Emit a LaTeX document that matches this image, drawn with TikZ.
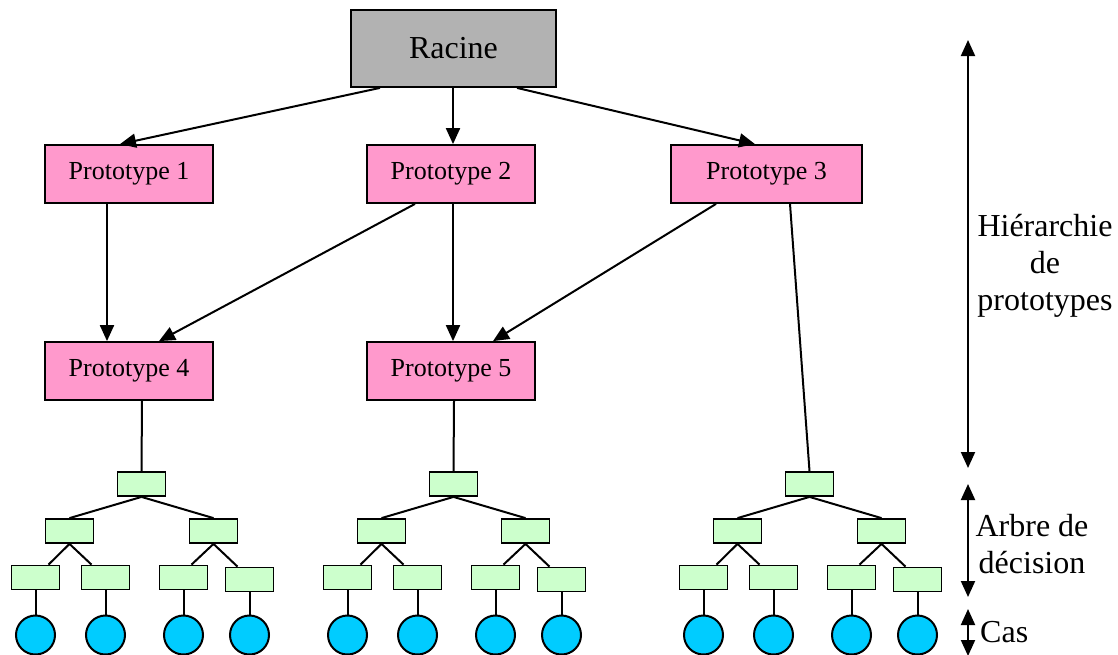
\documentclass[tikz,border=0pt]{standalone}
\usepackage{fontspec}
\setmainfont{Liberation Serif}
\usetikzlibrary{arrows.meta,calc}
\definecolor{rootgray}{HTML}{B2B2B2}
\definecolor{protopink}{HTML}{FF99CC}
\definecolor{treegreen}{HTML}{CCFFCC}
\definecolor{casblue}{HTML}{00CCFF}
\begin{document}
\begin{tikzpicture}[x=1pt,y=-1pt,
  box/.style={draw=black,line width=1.8pt,inner sep=0pt,anchor=center},
  rootbox/.style={box,fill=rootgray,minimum width=205pt,minimum height=77pt,font=\fontsize{32}{38}\selectfont},
  proto/.style={box,fill=protopink,minimum width=168pt,minimum height=58pt,font=\fontsize{26}{30}\selectfont},
  dbox/.style={box,fill=treegreen,minimum width=48pt,minimum height=24pt},
  casnode/.style={circle,draw=black,line width=2pt,fill=casblue,minimum size=39pt,inner sep=0pt},
  conn/.style={line width=2pt,-{Triangle[width=14pt,length=16pt]}},
  tline/.style={line width=2pt},
  span/.style={line width=2pt,{Triangle[width=14pt,length=16pt]}-{Triangle[width=14pt,length=16pt]}},
  sidetext/.style={font=\fontsize{32}{37}\selectfont,align=center,inner sep=0pt}]

% page frame
\fill[white] (0,0) rectangle (1118,654);
\path[use as bounding box] (0,0) rectangle (1118,654);

% prototype hierarchy
\node[rootbox] (racine) at (453.5,48.5) {Racine};
\node[proto] (p1) at (129,174) {Prototype 1};
\node[proto] (p2) at (451,174) {Prototype 2};
\node[proto,minimum width=191pt] (p3) at (766.5,174) {Prototype 3};
\node[proto] (p4) at (129,371) {Prototype 4};
\node[proto] (p5) at (451,371) {Prototype 5};

\draw[conn] ($(racine.south)+(-73.5,0)$) -- ($(p1.north)+(-9,0)$);
\draw[conn] ($(racine.south)+(-0.5,0)$) -- ($(p2.north)+(2,0)$);
\draw[conn] ($(racine.south)+(63.5,0)$) -- ($(p3.north)+(-11.5,0)$);
\draw[conn] ($(p1.south)+(-22,0)$) -- ($(p4.north)+(-22,0)$);
\draw[conn] ($(p2.south)+(-36,0)$) -- ($(p4.north)+(30,0)$);
\draw[conn] ($(p2.south)+(2,0)$) -- ($(p5.north)+(2,0)$);
\draw[conn] ($(p3.south)+(-50.5,0)$) -- ($(p5.north)+(42,0)$);

% decision trees with their cases
\foreach \t/\cx in {a/141.5, b/453.5, c/809.5} {
  \node[dbox] (\t0) at (\cx,484) {};
  \node[dbox] (\t1) at ({\cx-72},531) {};
  \node[dbox] (\t2) at ({\cx+72},531) {};
  \node[dbox] (\t11) at ({\cx-106},577.5) {};
  \node[dbox] (\t12) at ({\cx-36},577.5) {};
  \node[dbox] (\t21) at ({\cx+42},577.5) {};
  \node[dbox] (\t22) at ({\cx+108},579.5) {};
  \draw[tline] (\t0.south) -- (\t1.north);
  \draw[tline] (\t0.south) -- (\t2.north);
  \draw[tline] (\t1.south) -- ($(\t11.north)+(13,0)$);
  \draw[tline] (\t1.south) -- ($(\t12.north)+(-14,0)$);
  \draw[tline] (\t2.south) -- ($(\t21.north)+(8,0)$);
  \draw[tline] (\t2.south) -- ($(\t22.north)+(-12,0)$);
  \foreach \k in {11,12,21,22} {
    \node[casnode] (\t c\k) at (\t\k |- 0,635) {};
    \draw[tline] (\t\k.south) -- (\t c\k.north);
  }
}

% links from prototypes down to their trees
\draw[tline] ($(p4.south)+(13,0)$) -- (a0.north);
\draw[tline] ($(p5.south)+(3,0)$) -- (b0.north);
\draw[tline] ($(p3.south)+(23.5,0)$) -- (c0.north);

% level spans on the right
\coordinate (h1) at (968,40);
\coordinate (h2) at (968,468);
\coordinate (d1) at (968,484);
\coordinate (d2) at (968,597);
\coordinate (k1) at (968,609);
\coordinate (k2) at (968,656);
\draw[span] (h1) -- (h2);
\draw[span] (d1) -- (d2);
\draw[span] (k1) -- (k2);
\node[sidetext] (hlab) at (1045,266) {Hiérarchie\\de\\prototypes};
\node[sidetext] (dlab) at (1032,544) {Arbre de\\décision};
\node[sidetext,anchor=west] (klab) at (980,632) {Cas};
\end{tikzpicture}
\end{document}
